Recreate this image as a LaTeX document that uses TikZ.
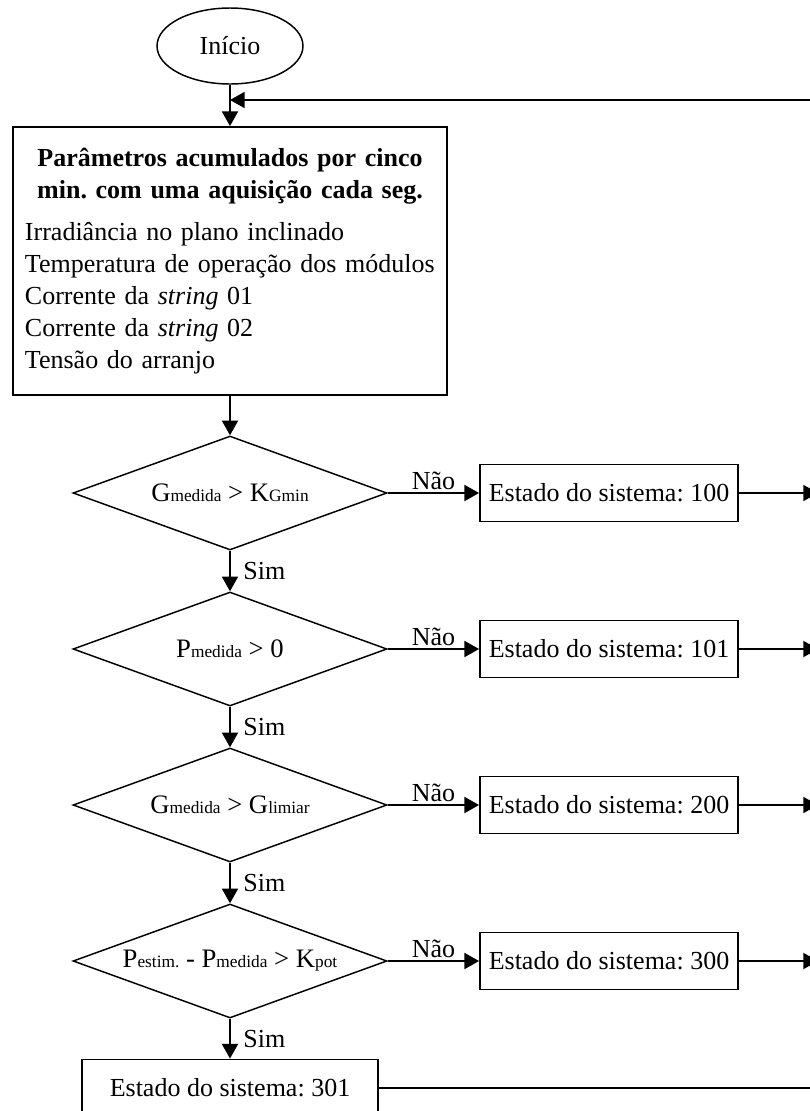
\documentclass[tikz,border=0pt]{standalone}
\usepackage{fontspec}
\setmainfont{Liberation Serif}
\usepackage{tikz}
\usetikzlibrary{arrows.meta}
\usetikzlibrary{shapes.geometric}
\tikzset{>={Triangle[length=11pt,width=12pt]}}
\newcommand{\subtxt}[1]{{\fontsize{13}{15}\selectfont #1}}
\tikzset{
  startnode/.style={draw, ellipse, line width=1.1pt, minimum width=109.5pt, minimum height=57pt, inner sep=0pt},
  procbox/.style={draw, rectangle, line width=1.4pt, inner sep=0pt},
  decision/.style={draw, diamond, shape aspect=2.75, line width=1.1pt, minimum width=235.5pt, minimum height=85.5pt, inner sep=0pt, font=\fontsize{20}{22}\selectfont},
  statebox/.style={procbox, minimum width=193.5pt, minimum height=42.75pt},
  flow/.style={->, line width=1.4pt},
  yes/.style={right, xshift=6pt},
  no/.style={above, inner sep=2pt},
}

\begin{document}
\frenchspacing
\begin{tikzpicture}[x=0.75pt, y=-0.75pt, font=\fontsize{19.5}{24}\selectfont]
            \path[use as bounding box, clip] (0,0) rectangle (810,1111);
            \node[startnode] (inicio) at (230,46) {Início};
            \node[procbox, minimum width=325.5pt, minimum height=201pt, text width=307.5pt, align=left] (param) at (230,261)
                {{\centering\bfseries Parâmetros acumulados por cinco\\ min. com uma aquisição cada seg.\par}\vspace{8pt}
                 Irradiância no plano inclinado\\
                 Temperatura de operação dos módulos\\
                 Corrente da \textit{string} 01\\
                 Corrente da \textit{string} 02\\
                 Tensão do arranjo};
            \node[decision] (g1) at (230,493) {G\subtxt{medida} > K\subtxt{Gmin}};
            \node[decision] (p1) at (230,649) {P\subtxt{medida} > 0};
            \node[decision] (g2) at (230,805) {G\subtxt{medida} > G\subtxt{limiar}};
            \node[decision] (p2) at (230,961) {P\subtxt{estim.} - P\subtxt{medida} > K\subtxt{pot}};
            \node[statebox] (e100) at (609,493) {Estado do sistema: 100};
            \node[statebox] (e101) at (609,649) {Estado do sistema: 101};
            \node[statebox] (e200) at (609,805) {Estado do sistema: 200};
            \node[statebox] (e300) at (609,961) {Estado do sistema: 300};
            \node[procbox, minimum width=222pt, minimum height=42.75pt] (e301) at (230,1088) {Estado do sistema: 301};
            % retorno pela direita
            \coordinate (ret) at (818,100);
            \coordinate (r100) at (818,493);
            \coordinate (r101) at (818,649);
            \coordinate (r200) at (818,805);
            \coordinate (r300) at (818,961);
            \coordinate (r301) at (818,1088);
            \draw[flow] (inicio) -- (param);
            \draw[flow] (param) -- (g1);
            \draw[flow] (g1) -- node[yes] {Sim} (p1);
            \draw[flow] (p1) -- node[yes] {Sim} (g2);
            \draw[flow] (g2) -- node[yes] {Sim} (p2);
            \draw[flow] (p2) -- node[yes] {Sim} (e301);
            \draw[flow] (g1) -- node[no] {Não} (e100);
            \draw[flow] (p1) -- node[no] {Não} (e101);
            \draw[flow] (g2) -- node[no] {Não} (e200);
            \draw[flow] (p2) -- node[no] {Não} (e300);
            \draw[flow] (e100) -- (r100);
            \draw[flow] (e101) -- (r101);
            \draw[flow] (e200) -- (r200);
            \draw[flow] (e300) -- (r300);
            \draw[line width=1.4pt] (e301) -- (r301);
            \draw[flow] (ret) -- (ret -| inicio.south);
        \end{tikzpicture}
\end{document}
